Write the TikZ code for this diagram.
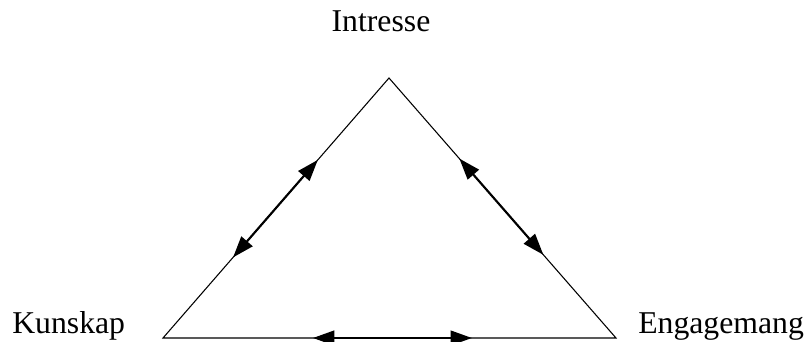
\documentclass[tikz,border=0pt]{standalone}
\usepackage{fontspec}
\setmainfont{Liberation Serif}
\usetikzlibrary{arrows.meta,calc}

\begin{document}
\begin{tikzpicture}[
  x=0.75pt, y=-0.75pt,
  every node/.style={font=\fontsize{23.8}{28}\selectfont, inner sep=0pt},
  side/.style={line width=0.8pt, black},
  darr/.style={{Triangle[length=16pt,width=11pt]}-{Triangle[length=16pt,width=11pt]}, line width=1.6pt},
]
\useasboundingbox (0,0) rectangle (804,342);

%% ── Corners of the triangle ──────────────────────────────────────────────
\coordinate (top)   at (389, 78);
\coordinate (left)  at (163,338);
\coordinate (right) at (616,338);

\draw[side] (top) -- (left) -- (right) -- cycle;

%% ── Labels ───────────────────────────────────────────────────────────────
\node[anchor=base] (intresse) at (381, 32) {Intresse};
\node[anchor=base west] (kunskap) at (12,334) {Kunskap};
\node[anchor=base west] (engagemang) at (638,334) {Engagemang};

%% ── Two-way arrows on the sides ──────────────────────────────────────────
\coordinate (l1) at ($(left)!0.31!(top)$);
\coordinate (l2) at ($(left)!0.685!(top)$);
\coordinate (r1) at ($(top)!0.31!(right)$);
\coordinate (r2) at ($(top)!0.68!(right)$);
\coordinate (b1) at ($(left)!0.331!(right)$);
\coordinate (b2) at ($(left)!0.682!(right)$);

\draw[darr] (l1) -- (l2);
\draw[darr] (r1) -- (r2);
\draw[darr] (b1) -- (b2);

\end{tikzpicture}
\end{document}
